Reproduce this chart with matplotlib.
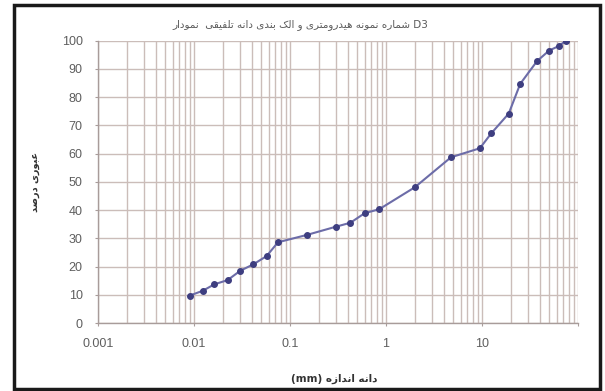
import matplotlib
matplotlib.use("Agg")
import matplotlib.pyplot as plt
from matplotlib.patches import Rectangle
from matplotlib.ticker import LogLocator, NullFormatter

# ---- data ----
size_mm = [0.009, 0.0123, 0.0163, 0.0224, 0.0303, 0.0416, 0.057, 0.075,
           0.15, 0.3, 0.425, 0.6, 0.85, 2.0, 4.75, 9.5, 12.5, 19.0,
           25.0, 37.5, 50.0, 63.0, 75.0]
passing = [9.7, 11.4, 13.7, 15.2, 18.5, 20.8, 23.7, 28.6,
           31.2, 34.1, 35.5, 38.9, 40.3, 48.1, 58.7, 61.9, 67.2, 74.2,
           84.7, 92.8, 96.5, 98.1, 100.0]
x_ticks = [0.001, 0.01, 0.1, 1, 10, 100]
x_tick_labels = ["0.001", "0.01", "0.1", "1", "10", ""]
y_ticks = [0, 10, 20, 30, 40, 50, 60, 70, 80, 90, 100]

title_words = ["نمودار", "", "تلفیقی", "دانه", "بندی", "الک", "و", "هیدرومتری", "نمونه", "شماره", "D3"]
xlabel_words = ["(mm)", "اندازه", "دانه"]
ylabel_words = ["درصد", "عبوری"]

# ---- minimal Arabic-script shaping (presentation forms) ----
FORMS = {
    'ا': ('\uFE8D', '\uFE8E', None, None),
    'ب': ('\uFE8F', '\uFE90', '\uFE91', '\uFE92'),
    'ت': ('\uFE95', '\uFE96', '\uFE97', '\uFE98'),
    'د': ('\uFEA9', '\uFEAA', None, None),
    'ر': ('\uFEAD', '\uFEAE', None, None),
    'ز': ('\uFEAF', '\uFEB0', None, None),
    'ش': ('\uFEB5', '\uFEB6', '\uFEB7', '\uFEB8'),
    'ص': ('\uFEB9', '\uFEBA', '\uFEBB', '\uFEBC'),
    'ع': ('\uFEC9', '\uFECA', '\uFECB', '\uFECC'),
    'ف': ('\uFED1', '\uFED2', '\uFED3', '\uFED4'),
    'ق': ('\uFED5', '\uFED6', '\uFED7', '\uFED8'),
    'ل': ('\uFEDD', '\uFEDE', '\uFEDF', '\uFEE0'),
    'م': ('\uFEE1', '\uFEE2', '\uFEE3', '\uFEE4'),
    'ن': ('\uFEE5', '\uFEE6', '\uFEE7', '\uFEE8'),
    'ه': ('\uFEE9', '\uFEEA', '\uFEEB', '\uFEEC'),
    'و': ('\uFEED', '\uFEEE', None, None),
    'ی': ('\uFBFC', '\uFBFD', '\uFBFE', '\uFBFF'),
    'ک': ('\uFB8E', '\uFB8F', '\uFB90', '\uFB91'),
}


def shape_word(w):
    if not any(c in FORMS for c in w):
        return w
    out = []
    n = len(w)
    for i, c in enumerate(w):
        if c not in FORMS:
            out.append(c)
            continue
        iso, fin, ini, med = FORMS[c]
        prev = w[i - 1] if i > 0 else None
        nxt = w[i + 1] if i < n - 1 else None
        jp = prev is not None and prev in FORMS and FORMS[prev][2] is not None
        jn = nxt is not None and nxt in FORMS and ini is not None
        if jp and jn:
            out.append(med)
        elif jp:
            out.append(fin)
        elif jn:
            out.append(ini)
        else:
            out.append(iso)
    return "".join(reversed(out))


def visual(words):
    return " ".join(shape_word(w) for w in words)


plt.rcParams['font.family'] = ['DejaVu Sans']

W, H = 605, 391
fig = plt.figure(figsize=(W / 100, H / 100), dpi=100)
fig.patch.set_facecolor('white')

left, right, top, bottom = 98, 578, 40.7, 323
ax = fig.add_axes([left / W, 1 - bottom / H, (right - left) / W, (bottom - top) / H])

grid_c = '#cbbdb9'
ax.set_xscale('log')
ax.set_xlim(0.001, 100)
ax.set_ylim(0, 100)
ax.set_yticks(y_ticks)
ax.set_xticks(x_ticks)
ax.set_xticklabels(x_tick_labels)
ax.xaxis.set_minor_locator(LogLocator(base=10, subs=range(2, 10)))
ax.xaxis.set_minor_formatter(NullFormatter())
ax.grid(which='major', axis='both', color=grid_c, lw=1.0)
ax.grid(which='minor', axis='x', color=grid_c, lw=1.0)
ax.set_axisbelow(True)

for s in ['top', 'right']:
    ax.spines[s].set_visible(False)
for s in ['left', 'bottom']:
    ax.spines[s].set_color('#a89c9a')
    ax.spines[s].set_linewidth(1.0)

ax.tick_params(axis='both', which='major', labelsize=9, colors='#a89c9a',
               labelcolor='#5e5e5e', length=2.5, direction='out', pad=8.5)
ax.tick_params(axis='x', which='minor', length=0)
for lab in ax.get_xticklabels() + ax.get_yticklabels():
    lab.set_fontfamily(['Liberation Sans', 'DejaVu Sans'])

ax.plot(size_mm, passing, color='#6c6ca8', lw=1.5, marker='o', ms=4,
        mfc='#3e3e80', mec='#3e3e80', zorder=3)

fig.text(300 / W, 1 - 25 / H, visual(title_words), ha='center', va='center',
         fontsize=7.5, color='#5a5a5a')
fig.text(334 / W, 1 - 379 / H, visual(xlabel_words), ha='center', va='center',
         fontsize=7.5, color='#333333', fontweight='bold')
fig.text(35 / W, 1 - 182 / H, visual(ylabel_words), ha='center', va='center',
         fontsize=7, color='#333333', fontweight='bold', rotation=90)

fig.add_artist(Rectangle((14 / W, 1 - 389 / H), (600 - 14) / W, (389 - 5) / H,
                         transform=fig.transFigure, fill=False, lw=2.5,
                         ec='#1a1a1a'))

fig.savefig('out.png', dpi=100, facecolor='white')
